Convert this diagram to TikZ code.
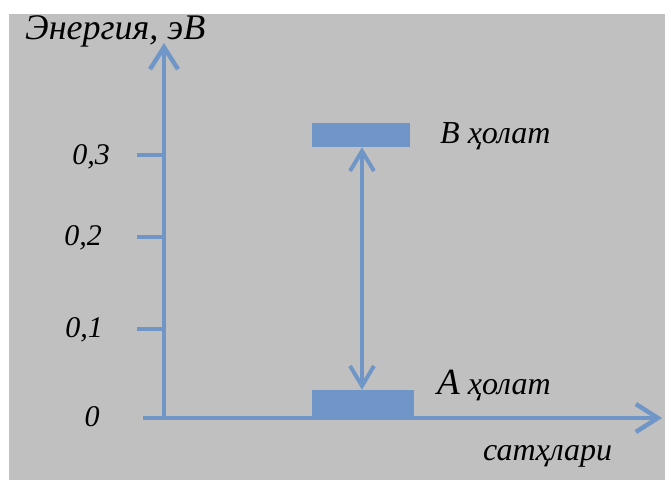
\documentclass[tikz,border=0pt]{standalone}
\usepackage{fontspec}
\setmainfont{Liberation Serif}
\usetikzlibrary{arrows.meta}
\definecolor{panel}{RGB}{192,192,192}
\definecolor{axisblue}{RGB}{112,150,200}
\tikzset{
  axisline/.style={draw=axisblue, line width=4.5pt},
  barhead/.style={-{Straight Barb[length=22pt,width=28pt,line width=4.5pt]}},
  lbl/.style={font=\itshape\fontsize{32}{34}\selectfont, inner sep=0pt, text=black, anchor=base west},
  ticklbl/.style={font=\itshape\fontsize{30}{32}\selectfont, inner sep=0pt, text=black, anchor=base},
  level/.style={fill=axisblue, draw=none, inner sep=0pt, minimum width=0pt, minimum height=0pt}
}
\begin{document}
\begin{tikzpicture}[x=1pt,y=-1pt]
  % page frame with the grey panel
  \useasboundingbox (0,0) rectangle (665,480);
  \fill[white] (0,0) rectangle (665,480);
  \fill[panel] (9,14) rectangle (665,480);

  % axes
  \coordinate (O) at (164,418);
  \coordinate (ytop) at (164,43);
  \coordinate (xend) at (662,418);
  \coordinate (xstart) at (143,418);
  \draw[axisline, barhead] (O) -- (ytop);
  \draw[axisline, barhead] (xstart) -- (xend);

  % ticks and their values
  \foreach \name/\yy/\base/\txt/\xl in {t3/155/164/{0,3}/91, t2/237/245/{0,2}/83, t1/329/337/{0,1}/84} {
    \coordinate (\name a) at (137,\yy);
    \coordinate (\name b) at (164,\yy);
    \draw[axisline] (\name a) -- (\name b);
    \node[ticklbl] (\name l) at (\xl,\base) {\txt};
  }
  \node[ticklbl] (t0l) at (92,426) {0};

  % energy levels
  \node[level, minimum width=98pt, minimum height=24pt] (B) at (361,135) {};
  \node[level, minimum width=102pt, minimum height=28pt] (A) at (363,404) {};

  % transition between the levels
  \draw[draw=axisblue, line width=4pt,
        {Straight Barb[length=20pt,width=24pt,line width=4pt]}-{Straight Barb[length=20pt,width=24pt,line width=4pt]}]
        (B.south -| 362,0) -- (A.north -| 362,0);

  % labels
  \node[lbl, font=\itshape\fontsize{36}{38}\selectfont] (ylab) at (25,39) {Энергия, эВ};
  \node[lbl] (Blab) at (440,143) {B ҳолат};
  \node[lbl] (Alab) at (437,394) {{\fontsize{37}{38}\selectfont A} ҳолат};
  \node[lbl] (xlab) at (483,460) {сатҳлари};
\end{tikzpicture}
\end{document}
